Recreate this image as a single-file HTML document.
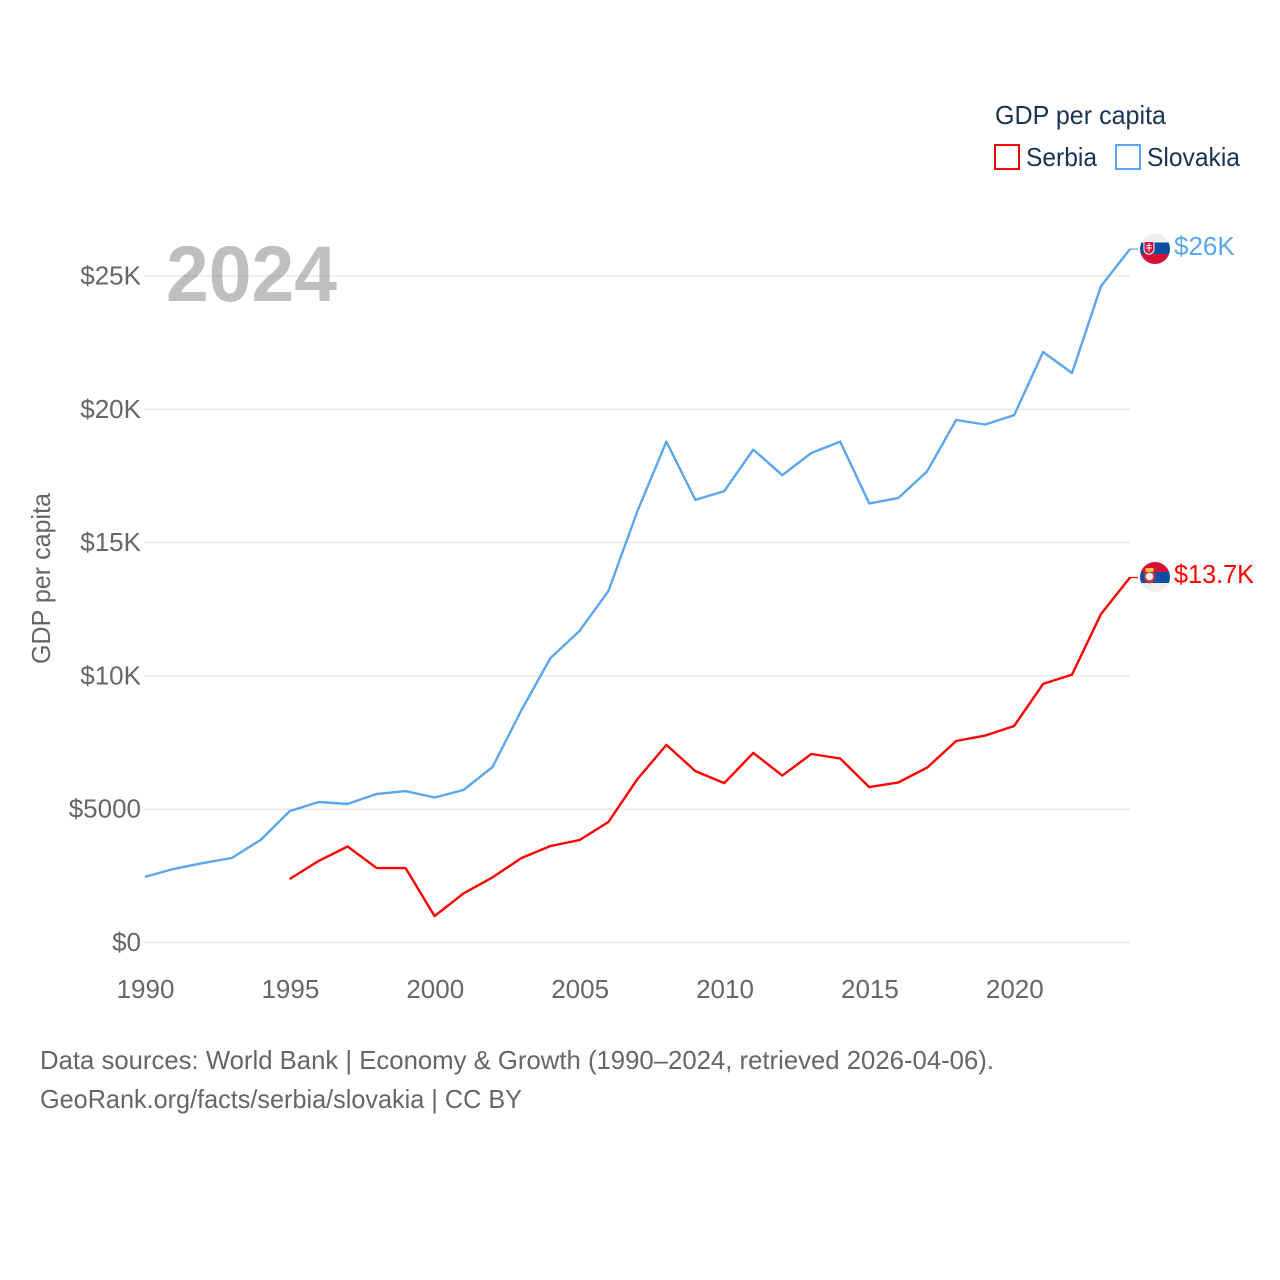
<!DOCTYPE html>
<html lang="en">
<head>
<meta charset="utf-8">
<title>GDP per capita: Serbia and Slovakia</title>
<style>
html,body{margin:0;padding:0;background:#fff;width:1280px;height:1280px;overflow:hidden}
svg{display:block}
text{font-family:"Liberation Sans",sans-serif;font-size:26px}
.tick{fill:#666}
.foot{fill:#666}
.legend{fill:#1a3353}
</style>
</head>
<body>
<svg id="chart" xmlns="http://www.w3.org/2000/svg" width="1280" height="1280" viewBox="0 0 1280 1280">
  <defs>
    <clipPath id="clip-sk"><circle cx="1155" cy="249" r="15"/></clipPath>
    <clipPath id="clip-rs"><circle cx="1155" cy="577" r="15"/></clipPath>
  </defs>
  <g id="grid"></g>
  <text x="166" y="301" textLength="171" lengthAdjust="spacingAndGlyphs" font-weight="bold" style="font-size:79px" fill="#7f7f7f" fill-opacity="0.5">2024</text>
  <g id="yticks"></g>
  <g id="xticks"></g>
  <text transform="translate(50,664) rotate(-90)" textLength="171" lengthAdjust="spacingAndGlyphs" class="tick">GDP per capita</text>
  <g id="lines"></g>

  <g>
    <text x="995" y="124" textLength="171" lengthAdjust="spacingAndGlyphs" class="legend">GDP per capita</text>
    <rect x="995" y="145" width="24" height="24" fill="none" stroke="#ff0000" stroke-width="2"/>
    <text x="1026" y="166" textLength="71" lengthAdjust="spacingAndGlyphs" class="legend">Serbia</text>
    <rect x="1116" y="145" width="24" height="24" fill="none" stroke="#5ba6ee" stroke-width="2"/>
    <text x="1147" y="166" textLength="93" lengthAdjust="spacingAndGlyphs" class="legend">Slovakia</text>
  </g>

  <g clip-path="url(#clip-sk)">
    <rect x="1140" y="234" width="30" height="8.5" fill="#eeeeee"/>
    <rect x="1140" y="242.5" width="30" height="11.5" fill="#0b4ea2"/>
    <rect x="1140" y="254" width="30" height="10" fill="#d80f35"/>
    <path d="M1144 241.500h10v8q0 3.500-5 5q-5-1.500-5-5z" fill="#d80f35" stroke="#fff" stroke-width="1"/>
    <path d="M1149 243v8.500M1146.500 245.500h5M1146 248h6" stroke="#fff" stroke-width="1" fill="none"/>
  </g>
  <g clip-path="url(#clip-rs)">
    <rect x="1140" y="562" width="30" height="10.500" fill="#d80f35"/>
    <rect x="1140" y="572" width="30" height="11" fill="#0c50a5"/>
    <rect x="1140" y="583" width="30" height="9" fill="#eeeeee"/>
    <path d="M1144 572h11v6q0 4-5.500 5.500q-5.500-1.500-5.500-5.500z" fill="#c8313e"/>
    <rect x="1145.500" y="568" width="8" height="4" fill="#eec44a"/>
    <circle cx="1149.500" cy="576.500" r="3.800" fill="#f4f0ea"/>
  </g>

  <text x="1174" y="255" class="value" fill="#5ba6ee">$26K</text>
  <text x="1174" y="583" textLength="80" lengthAdjust="spacingAndGlyphs" class="value" fill="#ff0000">$13.7K</text>

  <text x="40" y="1069" textLength="954" lengthAdjust="spacingAndGlyphs" class="foot">Data sources: World Bank | Economy &amp; Growth (1990–2024, retrieved 2026-04-06).</text>
  <text x="40" y="1108" textLength="482" lengthAdjust="spacingAndGlyphs" class="foot">GeoRank.org/facts/serbia/slovakia | CC BY</text>
</svg>
<script>
const years = [1990,1991,1992,1993,1994,1995,1996,1997,1998,1999,2000,2001,2002,2003,2004,2005,2006,2007,2008,2009,2010,2011,2012,2013,2014,2015,2016,2017,2018,2019,2020,2021,2022,2023,2024];
const slovakiaValues = [2460,2760,2980,3170,3850,4930,5270,5200,5570,5680,5440,5720,6580,8720,10670,11680,13180,16180,18790,16600,16930,18490,17530,18360,18790,16470,16670,17680,19600,19430,19780,22150,21360,24620,26010];
const serbiaValues = [null,null,null,null,null,2380,3060,3600,2790,2790,990,1840,2440,3170,3620,3840,4520,6130,7410,6430,5980,7110,6260,7070,6900,5830,6000,6560,7560,7760,8120,9700,10050,12320,13690];
const yTickValues = [0,5000,10000,15000,20000,25000];
const yTickLabels = ["$0","$5000","$10K","$15K","$20K","$25K"];
const xTickValues = [1990,1995,2000,2005,2010,2015,2020];

const NS = "http://www.w3.org/2000/svg";
function xScale(year){ return 144.8 + (year - 1990) * (1130 - 144.8) / 34; }
function yScale(value){ return 942.5 - value * (942.5 - 276) / 25000; }

const grid = document.getElementById("grid");
const yticks = document.getElementById("yticks");
const xticks = document.getElementById("xticks");
const lines = document.getElementById("lines");

yTickValues.forEach(function(v, i){
  const l = document.createElementNS(NS, "line");
  l.setAttribute("x1", 144);
  l.setAttribute("x2", 1130);
  l.setAttribute("y1", yScale(v));
  l.setAttribute("y2", yScale(v));
  l.setAttribute("stroke", "#e8e8e8");
  l.setAttribute("stroke-width", 1.5);
  
  
  grid.appendChild(l);

  const t = document.createElementNS(NS, "text");
  t.setAttribute("x", 141);
  t.setAttribute("y", yScale(v) + 8.5);
  t.setAttribute("text-anchor", "end");
  t.setAttribute("class", "tick");
  t.textContent = yTickLabels[i];
  
  
  yticks.appendChild(t);
});

xTickValues.forEach(function(y){
  const t = document.createElementNS(NS, "text");
  t.setAttribute("x", xScale(y) + 0.7);
  t.setAttribute("y", 998);
  t.setAttribute("text-anchor", "middle");
  t.setAttribute("class", "tick");
  t.textContent = String(y);
  
  
  xticks.appendChild(t);
});

function drawSeries(values, color, name){
  const pts = [];
  values.forEach(function(v, i){
    if (v !== null) pts.push(xScale(years[i]).toFixed(1) + "," + yScale(v).toFixed(1));
  });
  const last = values[values.length - 1];
  const p = document.createElementNS(NS, "polyline");
  p.setAttribute("points", pts.join(" "));
  p.setAttribute("fill", "none");
  p.setAttribute("stroke", color);
  p.setAttribute("stroke-width", 2.4);
  p.setAttribute("stroke-linejoin", "round");
  
  
  lines.appendChild(p);

  const c = document.createElementNS(NS, "line");
  c.setAttribute("x1", xScale(2024));
  c.setAttribute("x2", 1138);
  c.setAttribute("y1", yScale(last));
  c.setAttribute("y2", yScale(last));
  c.setAttribute("stroke", color);
  c.setAttribute("stroke-width", 1.2);
  
  
  lines.appendChild(c);
}
drawSeries(slovakiaValues, "#5ba6ee", "slovakia-line");
drawSeries(serbiaValues, "#ff0000", "serbia-line");
</script>
</body>
</html>
